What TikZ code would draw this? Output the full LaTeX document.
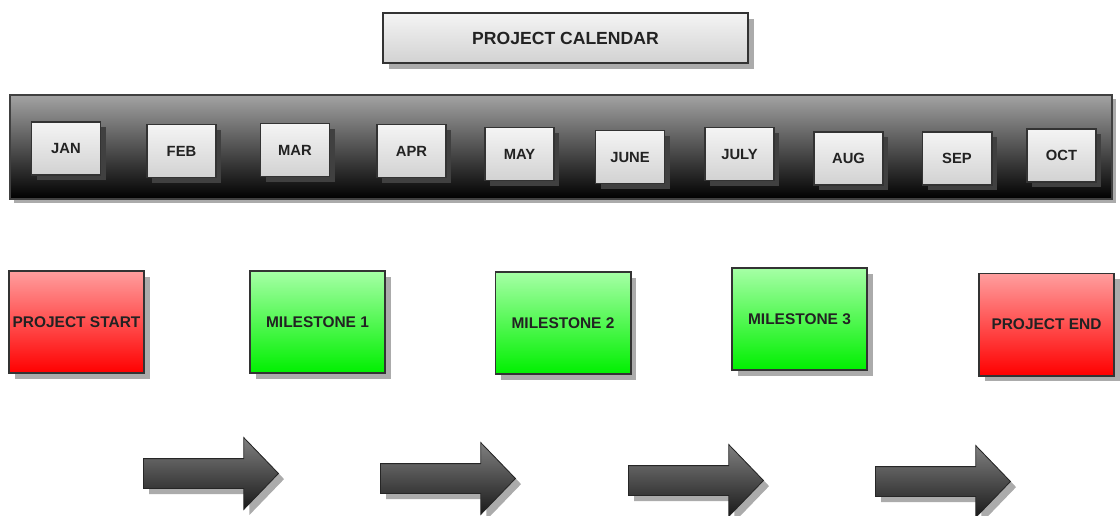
\documentclass[tikz,border=0pt]{standalone}
\usepackage{fontspec}
\setmainfont{Liberation Sans}
\usetikzlibrary{positioning,shapes.arrows,shadows}
\definecolor{frame}{HTML}{333333}
\definecolor{ink}{HTML}{222222}
\definecolor{paleTop}{HTML}{F4F4F4}
\definecolor{paleBot}{HTML}{D2D2D2}
\definecolor{redTop}{HTML}{FF9E9E}
\definecolor{redBot}{HTML}{FF0000}
\definecolor{grnTop}{HTML}{A6FFA6}
\definecolor{grnBot}{HTML}{00F000}
\definecolor{barTop}{HTML}{A3A3A3}
\definecolor{shade}{HTML}{ABABAB}

\begin{document}
\begin{tikzpicture}[x=0.025cm,y=-0.025cm,text=ink,
  plain/.style={draw=frame,line width=1.4pt,align=center,inner sep=1pt},
  lite/.style={drop shadow={shadow xshift=0.14cm,shadow yshift=-0.14cm,fill=shade,opacity=1}},
  month/.style={plain,minimum width=1.725cm,minimum height=1.325cm,
    top color=paleTop,bottom color=paleBot,font=\fontsize{10.5}{12}\selectfont\bfseries,
    drop shadow={shadow xshift=0.13cm,shadow yshift=-0.13cm,fill=black!75,opacity=1}},
  stage/.style={plain,lite,minimum width=3.375cm,minimum height=2.55cm,
    font=\fontsize{11}{13}\selectfont\bfseries},
  redbox/.style={stage,top color=redTop,bottom color=redBot},
  grnbox/.style={stage,top color=grnTop,bottom color=grnBot},
  flow/.style={single arrow,draw=black!85,line width=0.6pt,
    top color=black!50,bottom color=black!90,minimum height=3.375cm,
    inner xsep=0pt,inner ysep=0.3625cm,single arrow head extend=0.525cm,
    single arrow tip angle=92,anchor=tail,lite}]
\useasboundingbox (0,0) rectangle (1120,515);
\node[plain,lite,minimum width=9.125cm,minimum height=1.25cm,
  top color=paleTop,bottom color=paleBot,font=\fontsize{12.5}{14}\selectfont\bfseries]
  (title) at (565.5,38) {PROJECT CALENDAR};
% dark strip with the months
\node[draw=black!75,line width=1pt,minimum width=27.55cm,minimum height=2.6cm,
  top color=barTop,bottom color=black,
  drop shadow={shadow xshift=0.1cm,shadow yshift=-0.1cm,fill=shade,opacity=1}]
  (bar) at (561,147) {};
\foreach \m/\x/\y [count=\i] in {JAN/66/148.5,FEB/181.5/151,MAR/295/150,APR/411.5/151,
  MAY/519.5/154,JUNE/630/157,JULY/739.5/154,AUG/848.5/158.5,SEP/957/158.5,OCT/1061.5/155.5}
  \node[month] (m\i) at (\x,\y) {\m};
% milestones
\node[redbox] (start) at (76.5,322) {PROJECT START};
\node[grnbox] (ms1) at (317.5,322) {MILESTONE 1};
\node[grnbox] (ms2) at (563,323) {MILESTONE 2};
\node[grnbox] (ms3) at (799.5,319) {MILESTONE 3};
\node[redbox] (end) at (1046.5,324.5) {PROJECT END};
% block arrows
\node[flow] (a1) at (143,473.5) {};
\node[flow] (a2) at (380,478.5) {};
\node[flow] (a3) at (628,480.5) {};
\node[flow] (a4) at (875,481.5) {};
\end{tikzpicture}
\end{document}
